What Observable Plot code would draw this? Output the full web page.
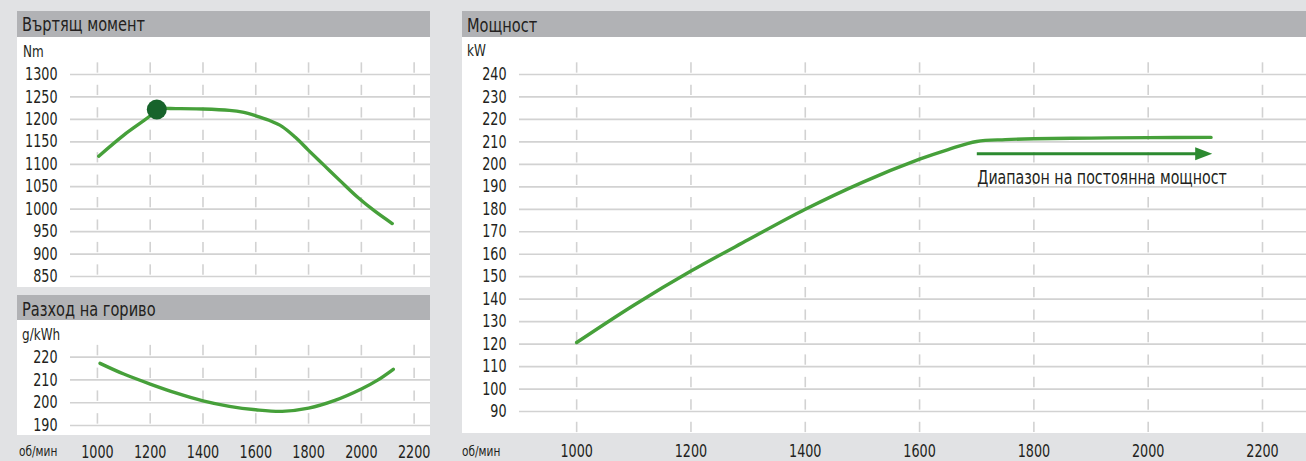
<!DOCTYPE html>
<html>
<head>
<meta charset="utf-8">
<script src="https://cdn.jsdelivr.net/npm/d3@7"></script>
<script src="https://cdn.jsdelivr.net/npm/@observablehq/plot@0.6"></script>
<style>
  html, body { margin: 0; padding: 0; background: #e1e2e4; }
  #root { position: relative; width: 1306px; height: 461px; overflow: hidden; background: #e1e2e4;
          font-family: 'Liberation Sans Narrow', 'DejaVu Sans Condensed', 'Roboto', sans-serif; color: #231f20; }
  .abs { position: absolute; }
  .hdr { background: #b1b2b5; }
  .panel { background: #ffffff; }
  .txt { white-space: nowrap; line-height: 1; transform-origin: 0 0; }
  .plot { position: absolute; }
  .plot svg { overflow: visible; }
</style>
</head>
<body>
<div id="root"></div>
<script>
// ---------- data ----------
const rpmTicks = [1000, 1200, 1400, 1600, 1800, 2000, 2200];

const torqueTicks = [850, 900, 950, 1000, 1050, 1100, 1150, 1200, 1250, 1300];
const torqueRpm = [1005, 1100, 1200, 1225, 1300, 1400, 1500, 1550, 1600, 1650, 1700, 1750, 1800, 1860, 1920, 1985, 2050, 2117];
const torqueNm  = [1118, 1165, 1208, 1222, 1224, 1223, 1220, 1216, 1208, 1198, 1184, 1160, 1131, 1097, 1063, 1027, 996, 968];
const torquePeak = {rpm: 1225, nm: 1222};

const fuelTicks = [190, 200, 210, 220];
const fuelRpm = [1010, 1100, 1200, 1300, 1400, 1500, 1600, 1700, 1800, 1900, 2000, 2060, 2121];
const fuelGkwh = [217.3, 212.6, 208.2, 204.2, 200.8, 198.4, 196.9, 196.2, 197.6, 201.0, 206.0, 209.8, 214.7];

const powerTicks = [90, 100, 110, 120, 130, 140, 150, 160, 170, 180, 190, 200, 210, 220, 230, 240];
const powerRpm = [1000, 1100, 1200, 1300, 1400, 1500, 1600, 1650, 1700, 1750, 1800, 1900, 2000, 2110];
const powerKw  = [120.7, 137.3, 152.5, 166.4, 180.0, 192.0, 202.3, 206.6, 210.2, 211.0, 211.4, 211.7, 211.9, 212.0];

const rangeArrow = {from: 1701, to: 2112, kw: 204.7};
const rangeLabel = "Диапазон на постоянна мощност";

const titles = {torque: "Въртящ момент", fuel: "Разход на гориво", power: "Мощност"};
const units = {torque: "Nm", fuel: "g/kWh", power: "kW", rpm: "об/мин"};

// ---------- helpers ----------
const FONT = "'Liberation Sans Narrow', 'DejaVu Sans Condensed', 'Roboto', sans-serif";
const NARROW = 0.81;   // horizontal squeeze to mimic a condensed face
const GREEN = "#46a03a";
const GRID = "#d2d2d2";
const root = document.getElementById("root");

function box(cls, left, top, w, h) {
  const d = document.createElement("div");
  d.className = "abs " + cls;
  Object.assign(d.style, {left: left + "px", top: top + "px", width: w + "px", height: h + "px"});
  root.appendChild(d);
  return d;
}
function label(text, left, capTop, fs) {
  const d = document.createElement("div");
  d.className = "abs txt";
  d.textContent = text;
  Object.assign(d.style, {left: left + "px", top: (capTop - 0.13 * fs) + "px", fontSize: fs + "px",
                          transform: `scaleX(${NARROW})`});
  root.appendChild(d);
}
function place(svg, left, top) {
  svg.querySelectorAll("text").forEach(t => {
    const tr = t.getAttribute("transform");
    if (tr) t.setAttribute("transform", tr + ` scale(${NARROW},1)`);
    else {
      const x = +(t.getAttribute("x") || 0), y = +(t.getAttribute("y") || 0);
      t.setAttribute("transform", `translate(${x},${y}) scale(${NARROW},1) translate(${-x},${-y})`);
    }
  });
  const w = document.createElement("div");
  w.className = "plot";
  w.style.left = left + "px"; w.style.top = top + "px";
  w.appendChild(svg);
  root.appendChild(w);
}
// short vertical grid dashes sitting just above each horizontal level
function dashes(levels, step) {
  const out = [];
  for (const x of rpmTicks) for (const v of levels) out.push({x, y1: v + 0.06 * step, y2: v + 0.52 * step});
  return out;
}
function zip(xs, ys) { return xs.map((x, i) => ({x, y: ys[i]})); }

const baseStyle = {background: "transparent", color: "#231f20", fontFamily: FONT, overflow: "visible"};

// ---------- panels ----------
box("hdr", 17, 11, 413, 26);
box("panel", 17, 37, 413, 250);
box("hdr", 17, 295, 413, 25);
box("panel", 17, 320, 413, 115);
box("hdr", 462, 11, 844, 26);
box("panel", 462, 37, 844, 396);

// ---------- torque ----------
const torquePlot = Plot.plot({
  width: 413, height: 250,
  marginLeft: 53, marginRight: 0, marginTop: 37, marginBottom: 11,
  style: baseStyle,
  x: {domain: [898, 2262], axis: null},
  y: {domain: [850, 1300], axis: null},
  marks: [
    Plot.ruleY(torqueTicks, {stroke: GRID, strokeWidth: 1.7}),
    Plot.ruleX(dashes(torqueTicks, 50), {x: "x", y1: "y1", y2: "y2", stroke: GRID, strokeWidth: 1.6}),
    Plot.axisY(torqueTicks, {tickSize: 0, tickPadding: 13, fontSize: 17.5, tickFormat: d3.format("d"), label: null}),
    Plot.line(zip(torqueRpm, torqueNm), {x: "x", y: "y", stroke: GREEN, strokeWidth: 3.4, curve: "catmull-rom"}),
    Plot.dot([torquePeak], {x: "rpm", y: "nm", r: 10, fill: "#17632b", stroke: "none"})
  ]
});
place(torquePlot, 17, 37);

// ---------- fuel ----------
const fuelPlot = Plot.plot({
  width: 413, height: 142,
  marginLeft: 53, marginRight: 0, marginTop: 36.7, marginBottom: 37,
  style: baseStyle,
  x: {domain: [898, 2262], axis: null},
  y: {domain: [190, 220], axis: null},
  marks: [
    Plot.ruleY(fuelTicks, {stroke: GRID, strokeWidth: 1.7}),
    Plot.ruleX(dashes(fuelTicks, 10), {x: "x", y1: "y1", y2: "y2", stroke: GRID, strokeWidth: 1.6}),
    Plot.axisY(fuelTicks, {tickSize: 0, tickPadding: 13, fontSize: 17.5, tickFormat: d3.format("d"), label: null}),
    Plot.axisX(rpmTicks, {tickSize: 0, tickPadding: 20, fontSize: 17.5, tickFormat: d3.format("d"), label: null}),
    Plot.line(zip(fuelRpm, fuelGkwh), {x: "x", y: "y", stroke: GREEN, strokeWidth: 3.4, curve: "catmull-rom"})
  ]
});
place(fuelPlot, 17, 320);

// ---------- power ----------
const arrowHead = {draw(ctx) { ctx.moveTo(0, 0); ctx.lineTo(-17, -6.5); ctx.lineTo(-17, 6.5); ctx.closePath(); }};
const powerPlot = Plot.plot({
  width: 844, height: 425,
  marginLeft: 57, marginRight: 0, marginTop: 37, marginBottom: 51,
  style: baseStyle,
  x: {domain: [900, 2277], axis: null},
  y: {domain: [90, 240], axis: null},
  marks: [
    Plot.ruleY(powerTicks, {stroke: GRID, strokeWidth: 1.7}),
    Plot.ruleX(dashes([powerTicks[0] - 10, ...powerTicks], 10), {x: "x", y1: "y1", y2: "y2", stroke: GRID, strokeWidth: 1.6}),
    Plot.axisY(powerTicks, {tickSize: 0, tickPadding: 13, fontSize: 17.5, tickFormat: d3.format("d"), label: null}),
    Plot.axisX(rpmTicks, {tickSize: 0, tickPadding: 33, fontSize: 17.5, tickFormat: d3.format("d"), label: null}),
    Plot.line(zip(powerRpm, powerKw), {x: "x", y: "y", stroke: GREEN, strokeWidth: 3.4, curve: "catmull-rom"}),
    Plot.ruleY([rangeArrow], {x1: "from", x2: d => d.to - 20, y: "kw", stroke: "#2c8a30", strokeWidth: 3}),
    Plot.dot([rangeArrow], {x: "to", y: "kw", symbol: arrowHead, fill: "#2c8a30", stroke: "none"}),
    Plot.text([rangeArrow], {x: "from", y: d => 191.3, text: () => rangeLabel, textAnchor: "start", lineAnchor: "bottom", fontSize: 19.5, fill: "#231f20"})
  ]
});
place(powerPlot, 462, 37);

// ---------- titles & units ----------
label(titles.torque, 22, 17, 20);
label(titles.fuel, 22, 301.5, 20);
label(titles.power, 467, 17.5, 20);
label(units.torque, 23, 46, 16.5);
label(units.fuel, 22, 329, 16.5);
label(units.power, 467, 45.5, 16.5);
label(units.rpm, 19, 446, 14.5);
label(units.rpm, 462, 446, 14.5);
</script>
</body>
</html>
